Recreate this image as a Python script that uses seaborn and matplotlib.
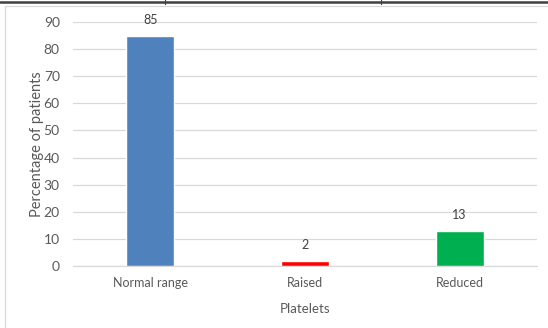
import matplotlib
matplotlib.use("Agg")
import matplotlib.pyplot as plt
import seaborn as sns
import pandas as pd
from matplotlib.patches import Rectangle
from matplotlib.lines import Line2D

categories = ["Normal range", "Raised", "Reduced"]
percentages = [85, 2, 13]
bar_colors = ["#4F81BD", "#FF0000", "#00B050"]
y_ticks = [0, 10, 20, 30, 40, 50, 60, 70, 80, 90]

df = pd.DataFrame({"Platelets": categories, "Percentage": percentages})

sns.set_theme(style="white")
plt.rcParams["font.family"] = ["Lato", "DejaVu Sans"]

text_color = "#595959"
grid_color = "#D9D9D9"
fs = 9

fig = plt.figure(figsize=(5.48, 3.28), dpi=100)
ax = fig.add_axes([73 / 548, 62 / 328, 464 / 548, 244 / 328])

sns.barplot(data=df, x="Platelets", y="Percentage", hue="Platelets",
            palette=bar_colors, width=0.31, legend=False, ax=ax,
            saturation=1, zorder=3)

ax.set_ylim(0, 90)
ax.set_xlim(-0.5, 2.5)
ax.set_yticks(y_ticks)
ax.yaxis.grid(True, color=grid_color, linewidth=0.9, zorder=0)
ax.set_axisbelow(True)
for side in ["top", "right", "left"]:
    ax.spines[side].set_visible(False)
ax.spines["bottom"].set_color(grid_color)
ax.spines["bottom"].set_linewidth(0.9)
ax.tick_params(axis="both", length=0, colors=text_color)
ax.tick_params(axis="x", pad=8, labelsize=fs)
ax.tick_params(axis="y", pad=9.5, labelsize=10)

ax.set_xlabel("Platelets", color=text_color, fontsize=9.5, labelpad=10)
ax.set_ylabel("Percentage of patients", color=text_color, fontsize=10.5, labelpad=0)

for container in ax.containers:
    for bar in container:
        h = bar.get_height()
        ax.annotate(f"{h:g}", (bar.get_x() + bar.get_width() / 2, h),
                    xytext=(0, 11), textcoords="offset points",
                    ha="center", va="center", fontsize=fs, color="#404040")

# outer chart frame
fig.patches.append(Rectangle((5 / 548, -0.1), 1.2, (322 / 328) + 0.1,
                             transform=fig.transFigure, fill=False,
                             edgecolor=grid_color, linewidth=0.9))
# table rule along the top edge
fig.lines.append(Line2D([0, 1], [1 - 1.5 / 328, 1 - 1.5 / 328],
                        transform=fig.transFigure, color="#404040", linewidth=1.8))
for xpix in (165, 381):
    fig.lines.append(Line2D([xpix / 548, xpix / 548], [1, 1 - 4 / 328],
                            transform=fig.transFigure, color="#404040", linewidth=0.9))

fig.savefig("out.png", dpi=100)
